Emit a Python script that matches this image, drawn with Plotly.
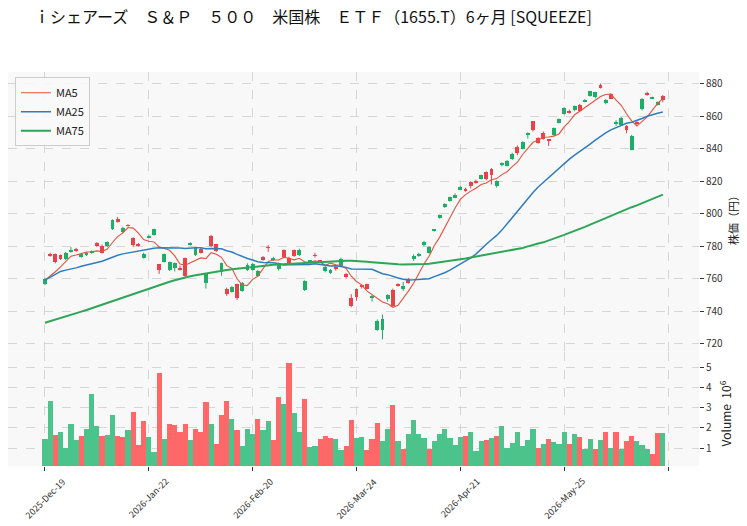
import plotly.graph_objects as go

# ---------------- data ----------------
tick_pos = [0, 20, 40, 60, 80, 100, 120]
tick_text = ["2025-Dec-19", "2026-Jan-22", "2026-Feb-20", "2026-Mar-24",
             "2026-Apr-21", "2026-May-25", ""]

opens = [
    757, 775.5, 775, 774.5, 772, 776.6, 778.6, 773.5, 774.5, 776,
    782, 780, 780, 790.5, 796.5, 788.5, 793, 784.8, 781.3, 773,
    785.5, 787, 768.8, 770.4, 765.3, 766.7, 766.7, 772.5, 781, 774.7,
    778.2, 757.5, 786.2, 781.2, 764.3, 754, 752, 756.7, 752.6, 765.3,
    765.5, 761.6, 773.5, 779.5, 771.4, 765.9, 777.6, 772.8, 777.6, 774.5,
    753, 770.4, 774.5, 771.2, 764.7, 763.6, 767.3, 768, 763.2, 748,
    753.4, 756, 756.5, 748, 728.8, 728.8, 747.3, 753, 756.8, 753.4,
    759.8, 772, 773.9, 780.6, 775.9, 789.5, 797.4, 804, 807.9, 809.9,
    814.8, 815.5, 819.4, 820.2, 821.6, 825.5, 827.5, 817.3, 829.8, 829.6,
    833.5, 841, 840, 849, 856.8, 846.8, 849.7, 845.5, 848.6, 855.8,
    861.6, 863.4, 863.6, 866.7, 868.7, 872.4, 871.8, 879.4, 868, 873.4,
    855.4, 854.4, 853.8, 839.4, 856.4, 864.6, 874.2, 870.8, 866.7, 872.2,
]
highs = [
    760.5, 776, 775.5, 775, 776.5, 779.5, 779, 775.5, 776.5, 777.5,
    782.5, 781, 783, 796.5, 798, 792, 793.5, 785.5, 782, 776,
    787, 790.8, 769, 775.5, 770.5, 770, 768, 773, 782.5, 779.5,
    779, 763.5, 787, 781.5, 770, 754.5, 755.5, 757, 758, 769.5,
    769.8, 765.5, 774, 780.6, 773.5, 770, 778, 773.5, 778, 778.5,
    759, 771.5, 776, 771.5, 768, 766, 768, 773, 763.5, 750.5,
    754, 756.5, 757, 750, 735, 738, 750.5, 754, 757.2, 758,
    760.5, 775, 776, 783.3, 780, 790.5, 799.5, 806.5, 810.5, 812.5,
    817, 816, 820, 821, 824, 826, 828, 820.5, 831.5, 833,
    837.5, 842, 844.5, 850, 857, 847, 850.5, 845.8, 853, 858.5,
    865.5, 864, 866.5, 867.5, 870.5, 875.5, 875, 880, 870.5, 874,
    857.5, 859.5, 854.5, 848.5, 857, 871, 875, 872, 869, 873,
]
lows = [
    756, 773.5, 769.5, 771.5, 771.5, 776, 776.5, 773, 774, 775.5,
    779.5, 775.5, 779.5, 790, 794.5, 788, 792, 779.5, 779.8, 772.5,
    785, 786.5, 763, 770, 764.8, 764.5, 765, 761, 780.5, 774,
    775.5, 754, 779.5, 776.5, 761.8, 749.5, 751.5, 747, 752, 764.8,
    765, 761, 771, 776.5, 771, 765, 772.5, 768.5, 773.5, 774,
    752.5, 770, 773, 770, 764, 763, 765, 767.5, 760, 742.5,
    746.5, 754, 753.5, 746, 728, 722.7, 746, 743, 755.2, 752.5,
    757, 771, 773.5, 780, 775.5, 789, 797, 803.5, 807.5, 809.5,
    814.5, 813.5, 815.5, 818.5, 821, 820.5, 818, 816, 829, 829,
    833, 836, 839.5, 846.2, 850.5, 843, 845.5, 841.7, 848, 855.5,
    861, 861.5, 863, 862.5, 868.5, 872, 871, 877, 867.3, 870.5,
    854, 854, 849.5, 839, 854.5, 863.5, 872.5, 870.5, 866.5, 868.5,
]
closes = [
    760, 774, 770, 772, 776, 777.3, 777.6, 775, 776, 777,
    780, 776, 782.5, 796, 795, 791.5, 792.5, 780.7, 780.3, 775.5,
    786.5, 790.3, 765.3, 775.1, 770.2, 769.4, 765.3, 761.6, 782, 779,
    776.1, 763.2, 780, 777.2, 769.4, 750.5, 755, 747.9, 757.5, 768.5,
    769.2, 765, 771.6, 779, 772.8, 769.4, 773.1, 769, 773.9, 777.6,
    758.5, 771, 774, 770.6, 767.3, 765.2, 765.9, 772.4, 760.8, 743.5,
    749, 755.5, 754, 749.3, 734.2, 735.5, 749.9, 743.4, 755.6, 755.3,
    757.7, 774.1, 775.5, 782.9, 779.6, 790.2, 799, 806.2, 810.3, 811.8,
    816.5, 814, 816.9, 818.9, 823.6, 821.2, 824, 820.2, 831.2, 832.5,
    836.8, 837.5, 844.1, 849.9, 851.3, 843.5, 846.2, 844.8, 852.7, 858,
    865.2, 862.5, 866, 863.2, 869.5, 875.3, 874.7, 877.5, 869.7, 870.8,
    856.5, 858.9, 851.3, 847.8, 855, 870.8, 872.8, 871.8, 868.7, 870,
]
# volume in millions of shares
volumes = [
    1.46, 3.38, 1.69, 1.85, 1.01, 2.23, 1.41, 1.64, 1.95, 3.68,
    2.13, 1.61, 1.69, 2.67, 1.61, 1.56, 1.90, 2.79, 1.16, 2.35,
    1.56, 0.83, 4.73, 1.46, 2.20, 2.15, 1.82, 2.20, 1.41, 1.95,
    1.82, 3.33, 2.20, 1.21, 2.69, 3.38, 2.48, 1.90, 1.15, 1.95,
    1.71, 2.48, 1.90, 2.35, 1.41, 3.58, 3.19, 5.24, 2.77, 1.85,
    3.46, 1.08, 1.11, 1.49, 1.65, 1.54, 1.49, 0.96, 1.11, 2.40,
    1.52, 1.60, 0.95, 1.46, 2.26, 1.37, 1.95, 3.14, 1.36, 0.99,
    1.74, 2.43, 1.74, 1.55, 0.99, 1.37, 1.74, 1.95, 1.54, 1.16,
    1.60, 1.65, 1.82, 0.90, 1.40, 1.43, 1.54, 1.65, 2.10, 1.02,
    1.30, 1.82, 1.13, 1.41, 1.95, 1.03, 1.24, 1.49, 1.32, 1.21,
    1.85, 1.24, 1.74, 1.60, 1.00, 1.49, 1.00, 1.44, 1.85, 1.05,
    1.82, 1.00, 1.36, 1.65, 1.36, 1.20, 1.00, 0.75, 1.78, 1.78,
]
# closes of the 4 sessions before the window (for MA5 start)
prior_closes = [761.5, 756.5, 757, 760.5]
ma25_head = [759.1, 760.8, 762.8, 764.5, 765.3, 765.9, 766.7, 767.7, 768.4, 769.0,
             769.8, 770.8, 772.0, 773.5, 774.5, 775.3, 775.9, 776.3, 777.0, 777.6,
             778.2, 778.8, 779.0, 779.0]
ma75_head = [733.0, 733.9, 734.8, 735.8, 736.8, 737.8, 738.8, 739.8, 740.8,
             741.9, 743.0, 744.1, 745.2, 746.4, 747.5, 748.7, 749.8,
             750.9, 752.0, 753.1, 754.2, 755.2, 756.2, 757.2, 758.2,
             759.1, 760.0, 760.8, 761.6, 762.2, 762.8, 763.4, 764.0,
             764.5, 765.0, 765.4, 765.8, 766.2, 766.6, 767.0, 767.4,
             767.7, 768.0, 768.3, 768.6, 768.8, 769.0, 769.3, 769.5,
             769.7, 769.8, 770.0, 770.2, 770.4, 770.6, 770.8, 771.0,
             771.1, 771.1, 771.0, 770.9, 770.7, 770.4, 770.1, 769.8,
             769.5, 769.2, 769.0, 768.9, 768.8, 768.8, 768.9, 769.0, 769.1]

# ---------------- derived ----------------
n = len(closes)
idx = list(range(n))
allc = prior_closes + closes
ma5 = [sum(allc[i:i + 5]) / 5 for i in range(n)]
ma25 = [ma25_head[i] if i < 24 else sum(closes[i - 24:i + 1]) / 25 for i in range(n)]
ma75 = [ma75_head[i] if i < 74 else sum(closes[i - 74:i + 1]) / 75 for i in range(n)]

UP, DOWN = "#1fae68", "#e8434a"
VUP, VDOWN = "#4cc38b", "#ff6868"

body_base = [min(o, c) for o, c in zip(opens, closes)]
body_h = [max(abs(c - o), 0.5) for o, c in zip(opens, closes)]
body_col = [UP if c >= o else DOWN for o, c in zip(opens, closes)]

vcol = []
for i in range(n):
    if i == 0:
        vcol.append(VUP if closes[0] >= opens[0] else VDOWN)
    else:
        vcol.append(VUP if closes[i] >= closes[i - 1] else VDOWN)

def wick(cond):
    xs, ys = [], []
    for i in range(n):
        if cond(i):
            xs += [i, i, None]
            ys += [lows[i], highs[i], None]
    return xs, ys

FONT = "Noto Sans CJK JP"
fig = go.Figure()

wx, wy = wick(lambda i: closes[i] >= opens[i])
fig.add_trace(go.Scatter(x=wx, y=wy, mode="lines", line=dict(color=UP, width=1),
                         showlegend=False, hoverinfo="skip", xaxis="x", yaxis="y"))
wx, wy = wick(lambda i: closes[i] < opens[i])
fig.add_trace(go.Scatter(x=wx, y=wy, mode="lines", line=dict(color=DOWN, width=1),
                         showlegend=False, hoverinfo="skip", xaxis="x", yaxis="y"))
fig.add_trace(go.Bar(x=idx, y=body_h, base=body_base, width=0.75,
                     marker=dict(color=body_col, line=dict(width=0)),
                     showlegend=False, xaxis="x", yaxis="y"))

fig.add_trace(go.Scatter(x=idx, y=ma5, mode="lines", name="MA5",
                         line=dict(color="#e5533d", width=1.1), xaxis="x", yaxis="y"))
fig.add_trace(go.Scatter(x=idx, y=ma25, mode="lines", name="MA25",
                         line=dict(color="#2f7dbf", width=1.5), xaxis="x", yaxis="y"))
fig.add_trace(go.Scatter(x=idx, y=ma75, mode="lines", name="MA75",
                         line=dict(color="#2ea657", width=2), xaxis="x", yaxis="y"))

fig.add_trace(go.Bar(x=idx, y=volumes, width=1.0,
                     marker=dict(color=vcol, line=dict(width=0)),
                     showlegend=False, xaxis="x", yaxis="y2"))

grid = dict(showgrid=True, gridcolor="#d6d6d6", griddash="dash", gridwidth=1)
VOL_FRAC = 0.2906

# rotated date labels centred under their ticks
tick_annotations = [
    dict(text=t, x=p, xref="x", y=-0.016, yref="paper", xanchor="center",
         yanchor="top", textangle=-45, showarrow=False,
         font=dict(size=9, family=FONT, color="#333333"))
    for p, t in zip(tick_pos, tick_text) if t
]

fig.update_layout(
    width=747, height=526,
    margin=dict(l=8, r=48, t=72, b=60),
    paper_bgcolor="white", plot_bgcolor="#f8f8f8",
    barmode="overlay", bargap=0,
    font=dict(family=FONT, color="#333333"),
    title=dict(text="ｉシェアーズ　Ｓ＆Ｐ　５００　米国株　ＥＴＦ（1655.T）6ヶ月 [SQUEEZE]",
               x=34 / 747, xanchor="left", xref="container",
               y=1 - 17 / 526, yanchor="middle", yref="container",
               font=dict(size=16, color="#111111", family=FONT)),
    xaxis=dict(domain=[0, 1], anchor="y2", range=[-7.12, 125.97],
               tickmode="array", tickvals=tick_pos, showticklabels=False,
               ticks="outside", ticklen=4, tickcolor="#333",
               zeroline=False, showline=False, **grid),
    yaxis=dict(domain=[VOL_FRAC, 1], anchor="x", side="right",
               range=[715.27, 887.13], tickmode="array",
               tickvals=[720, 740, 760, 780, 800, 820, 840, 860, 880],
               ticks="outside", ticklen=4, tickcolor="#333",
               tickfont=dict(size=10, family=FONT), zeroline=False,
               showline=False, **grid),
    yaxis2=dict(domain=[0, VOL_FRAC], anchor="x", side="right",
                range=[0.12, 5.78], tickmode="array", tickvals=[1, 2, 3, 4, 5],
                ticks="outside", ticklen=4, tickcolor="#333",
                tickfont=dict(size=10, family=FONT), zeroline=False,
                showline=False, **grid),
    legend=dict(x=0.0101, y=0.9866, xanchor="left", yanchor="top",
                bgcolor="rgba(248,248,248,0.9)", bordercolor="#cccccc",
                borderwidth=1, itemwidth=30,
                font=dict(size=11, family=FONT, color="#222")),
    annotations=[
        dict(text="株価（円）", xref="paper", yref="paper", x=1.049, y=0.6315,
             xanchor="center", yanchor="middle",
             textangle=-90, showarrow=False, font=dict(size=11, family=FONT, color="#222")),
        dict(text="Volume  10<sup>6</sup>", xref="paper", yref="paper", x=1.038, y=0.134,
             xanchor="center", yanchor="middle",
             textangle=-90, showarrow=False, font=dict(size=12, family=FONT, color="#222")),
    ] + tick_annotations,
)

fig.write_html("out.html")
